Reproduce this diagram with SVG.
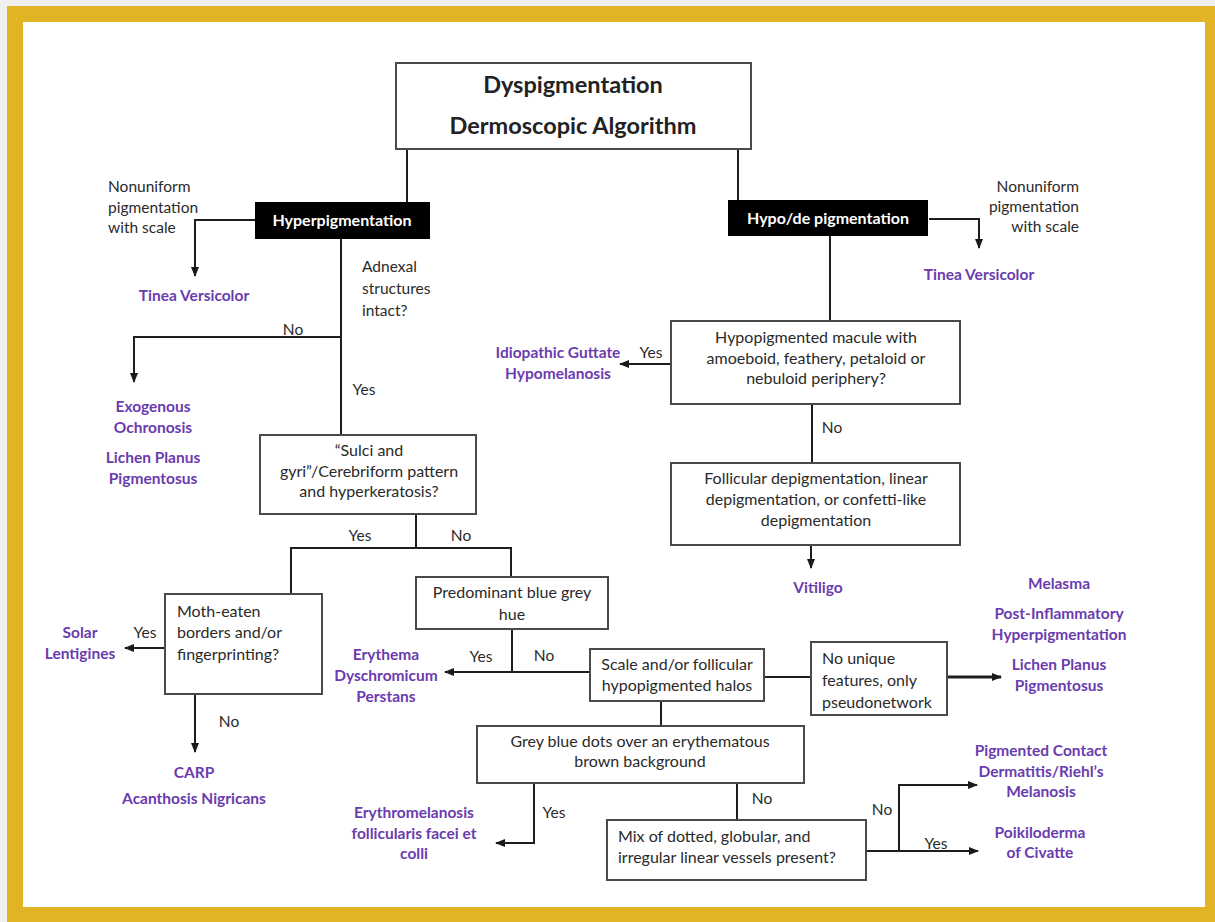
<svg xmlns="http://www.w3.org/2000/svg" width="1215" height="922" viewBox="0 0 1215 922">
<defs>
<marker id="ah" markerUnits="userSpaceOnUse" markerWidth="10" markerHeight="10" viewBox="0 0 10 10" refX="9" refY="5" orient="auto">
<path d="M0,1 L10,5 L0,9 Z" fill="#1a1a1a"/>
</marker>
<style>
text{font-family:Lato,"Open Sans","Liberation Sans",sans-serif;}
.box{fill:#fff;stroke:#4a4a4a;stroke-width:2;}
.blk{fill:#000;}
.t{font-size:16px;fill:#2a2a2a;}
.lbl{font-size:15.5px;fill:#2a2a2a;}
.w{font-size:16px;fill:#fff;font-weight:bold;}
.p{font-size:15.5px;fill:#6a3cae;font-weight:bold;}
.title{font-size:23.5px;fill:#222;font-weight:bold;}
.c{text-anchor:middle;}
.r{text-anchor:end;}
.ln{fill:none;stroke:#1e1e1e;stroke-width:2;}
.ar{fill:none;stroke:#1e1e1e;stroke-width:2;marker-end:url(#ah);}
</style>
</defs>
<rect x="0" y="0" width="1215" height="922" fill="#efefef"/>
<rect x="7" y="6" width="1208" height="916" fill="#e2b324"/>
<rect x="23" y="22" width="1182" height="885" fill="#fff"/>

<g id="connectors">
<path class="ln" d="M407,149 V203"/>
<path class="ln" d="M738,149 V200"/>
<path class="ar" d="M255,220 H195 V276"/>
<path class="ln" d="M341,239 V435"/>
<path class="ar" d="M341,337 H134 V382"/>
<path class="ar" d="M929,219 H979 V248"/>
<path class="ln" d="M830,236 V321"/>
<path class="ar" d="M671,364 H620"/>
<path class="ln" d="M812,404 V463"/>
<path class="ar" d="M811,545 V568"/>
<path class="ln" d="M416,514 V548 M291,594 V548 H511 V577"/>
<path class="ar" d="M165,648 H125"/>
<path class="ar" d="M195,694 V752"/>
<path class="ln" d="M512,629 V672"/>
<path class="ar" d="M590,672 H445"/>
<path class="ln" d="M764,677 H811"/>
<path class="ar" d="M947,677 H1001" style="stroke-width:3"/>
<path class="ln" d="M661,701 V726"/>
<path class="ar" d="M534,783 V843 H496"/>
<path class="ln" d="M737,783 V820"/>
<path class="ar" d="M866,851 H978"/>
<path class="ar" d="M899,851 V785 H977"/>
</g>

<g id="n-title">
<rect class="box" x="396" y="63" width="355" height="86"/>
<text class="title c" x="573" y="93">Dyspigmentation</text>
<text class="title c" x="573" y="134">Dermoscopic Algorithm</text>
</g>

<g id="n-hyper">
<rect class="blk" x="255" y="202" width="175" height="37"/>
<text class="w c" x="342" y="226">Hyperpigmentation</text>
</g>

<g id="n-hypo">
<rect class="blk" x="728" y="200" width="200" height="36"/>
<text class="w c" x="828" y="224">Hypo/de pigmentation</text>
</g>

<g id="l-nonuniform-left">
<text class="lbl" x="108" y="192">Nonuniform</text>
<text class="lbl" x="108" y="213">pigmentation</text>
<text class="lbl" x="108" y="233">with scale</text>
</g>
<g id="o-tinea-left"><text class="p c" x="194" y="301">Tinea Versicolor</text></g>

<g id="l-adnexal">
<text class="lbl" x="362" y="272">Adnexal</text>
<text class="lbl" x="362" y="294">structures</text>
<text class="lbl" x="362" y="316">intact?</text>
</g>
<text class="lbl c" x="293" y="335">No</text>
<text class="lbl c" x="364" y="395">Yes</text>

<g id="o-exogenous">
<text class="p c" x="153" y="412">Exogenous</text>
<text class="p c" x="153" y="433">Ochronosis</text>
<text class="p c" x="153" y="463">Lichen Planus</text>
<text class="p c" x="153" y="484">Pigmentosus</text>
</g>

<g id="n-sulci">
<rect class="box" x="260" y="435" width="216" height="79"/>
<text class="t c" x="369" y="456">“Sulci and</text>
<text class="t c" x="369" y="477">gyri”/Cerebriform pattern</text>
<text class="t c" x="369" y="497">and hyperkeratosis?</text>
</g>
<text class="lbl c" x="360" y="541">Yes</text>
<text class="lbl c" x="461" y="541">No</text>

<g id="n-moth">
<rect class="box" x="165" y="594" width="157" height="100"/>
<text class="t" x="177" y="617">Moth-eaten</text>
<text class="t" x="177" y="638">borders and/or</text>
<text class="t" x="177" y="660">fingerprinting?</text>
</g>
<text class="lbl c" x="145" y="638">Yes</text>
<g id="o-solar">
<text class="p c" x="80" y="638">Solar</text>
<text class="p c" x="80" y="659">Lentigines</text>
</g>
<text class="lbl c" x="229" y="727">No</text>
<g id="o-carp">
<text class="p c" x="194" y="778">CARP</text>
<text class="p c" x="194" y="804">Acanthosis Nigricans</text>
</g>

<g id="n-predominant">
<rect class="box" x="416" y="577" width="192" height="52"/>
<text class="t c" x="512" y="598">Predominant blue grey</text>
<text class="t c" x="512" y="620">hue</text>
</g>
<text class="lbl c" x="481" y="662">Yes</text>
<text class="lbl c" x="544" y="661">No</text>
<g id="o-edp">
<text class="p c" x="386" y="660">Erythema</text>
<text class="p c" x="386" y="681">Dyschromicum</text>
<text class="p c" x="386" y="702">Perstans</text>
</g>

<g id="n-scale">
<rect class="box" x="590" y="649" width="174" height="52"/>
<text class="t c" x="677" y="670">Scale and/or follicular</text>
<text class="t c" x="677" y="691">hypopigmented halos</text>
</g>

<g id="n-nounique">
<rect class="box" x="811" y="642" width="136" height="73"/>
<text class="t" x="822" y="664">No unique</text>
<text class="t" x="822" y="686">features, only</text>
<text class="t" x="822" y="708">pseudonetwork</text>
</g>
<g id="o-melasma">
<text class="p c" x="1059" y="589">Melasma</text>
<text class="p c" x="1059" y="619">Post-Inflammatory</text>
<text class="p c" x="1059" y="640">Hyperpigmentation</text>
<text class="p c" x="1059" y="670">Lichen Planus</text>
<text class="p c" x="1059" y="691">Pigmentosus</text>
</g>

<g id="n-greyblue">
<rect class="box" x="477" y="726" width="327" height="57"/>
<text class="t c" x="640" y="747">Grey blue dots over an erythematous</text>
<text class="t c" x="640" y="767">brown background</text>
</g>
<text class="lbl c" x="554" y="818">Yes</text>
<text class="lbl c" x="762" y="804">No</text>
<g id="o-erythromelanosis">
<text class="p c" x="414" y="818">Erythromelanosis</text>
<text class="p c" x="414" y="839">follicularis facei et</text>
<text class="p c" x="414" y="859">colli</text>
</g>

<g id="n-mix">
<rect class="box" x="607" y="820" width="259" height="60"/>
<text class="t" x="618" y="842">Mix of dotted, globular, and</text>
<text class="t" x="618" y="863">irregular linear vessels present?</text>
</g>
<text class="lbl c" x="882" y="815">No</text>
<text class="lbl c" x="936" y="849">Yes</text>
<g id="o-pcd">
<text class="p c" x="1041" y="756">Pigmented Contact</text>
<text class="p c" x="1041" y="777">Dermatitis/Riehl’s</text>
<text class="p c" x="1041" y="797">Melanosis</text>
</g>
<g id="o-poik">
<text class="p c" x="1040" y="838">Poikiloderma</text>
<text class="p c" x="1040" y="858">of Civatte</text>
</g>

<g id="l-nonuniform-right">
<text class="lbl r" x="1079" y="192">Nonuniform</text>
<text class="lbl r" x="1079" y="212">pigmentation</text>
<text class="lbl r" x="1079" y="232">with scale</text>
</g>
<g id="o-tinea-right"><text class="p c" x="979" y="280">Tinea Versicolor</text></g>

<g id="n-hypomacule">
<rect class="box" x="671" y="321" width="289" height="83"/>
<text class="t c" x="816" y="343">Hypopigmented macule with</text>
<text class="t c" x="816" y="364">amoeboid, feathery, petaloid or</text>
<text class="t c" x="816" y="384">nebuloid periphery?</text>
</g>
<text class="lbl c" x="651" y="358">Yes</text>
<g id="o-igh">
<text class="p c" x="558" y="358">Idiopathic Guttate</text>
<text class="p c" x="558" y="379">Hypomelanosis</text>
</g>
<text class="lbl c" x="832" y="433">No</text>

<g id="n-follicular">
<rect class="box" x="671" y="463" width="289" height="82"/>
<text class="t c" x="816" y="484">Follicular depigmentation, linear</text>
<text class="t c" x="816" y="505">depigmentation, or confetti-like</text>
<text class="t c" x="816" y="526">depigmentation</text>
</g>
<g id="o-vitiligo"><text class="p c" x="818" y="593">Vitiligo</text></g>
</svg>
